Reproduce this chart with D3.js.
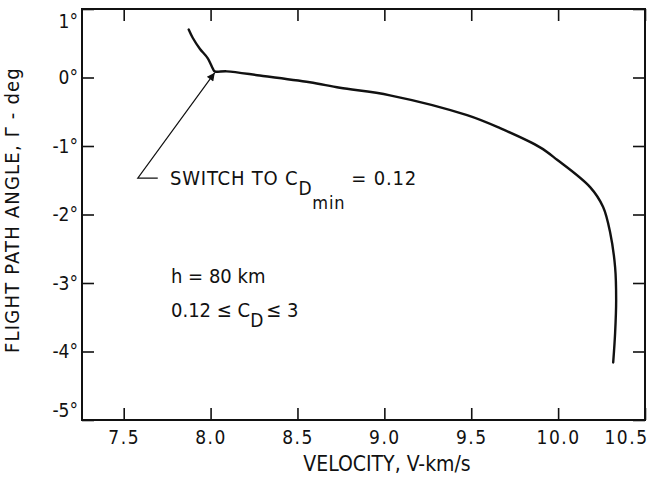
<!DOCTYPE html>
<html>
<head>
<meta charset="utf-8">
<script src="https://cdn.jsdelivr.net/npm/d3@7"></script>
<style>
  html, body { margin: 0; padding: 0; background: #fff; }
  svg text { font-family: "DejaVu Sans Condensed", "DejaVu Sans", sans-serif; font-stretch: condensed; fill: #111; }
</style>
</head>
<body>
<svg id="chart" width="652" height="486"></svg>
<script>
// Flight path angle vs velocity, h = 80 km, 0.12 <= CD <= 3
const velocity = [7.874, 7.897, 7.938, 7.984, 8.013, 8.024, 8.093, 8.283, 8.571, 8.744, 9.032,
                  9.476, 9.666, 9.896, 9.994, 10.184, 10.259, 10.300, 10.328, 10.334, 10.328, 10.317];
const gamma    = [0.70, 0.58, 0.42, 0.28, 0.13, 0.09, 0.09, 0.03, -0.07, -0.15, -0.26,
                  -0.55, -0.74, -1.02, -1.20, -1.60, -1.89, -2.27, -2.77, -3.25, -3.73, -4.16];

const xTicks = [7.5, 8.0, 8.5, 9.0, 9.5, 10.0, 10.5];
const yTicks = [1, 0, -1, -2, -3, -4, -5];

// Pointer from the annotation to the switch point
const pointerV = [7.696, 7.581, 8.024];
const pointerG = [-1.47, -1.47, 0.07];

const svg = d3.select("#chart");
const plotL = 82, plotR = 645, plotT = 9, plotB = 420;

const x = d3.scaleLinear().domain([7.26, 10.5]).range([plotL, plotR]);
const y = d3.scaleLinear().domain([-5, 1]).range([plotB, plotT]);

const fmtX = d => d.toFixed(1);
const fmtY = d => d + "\u00B0";

// Axes with inward ticks on all four sides
const gx = svg.append("g").attr("transform", `translate(0,${plotB})`)
  .call(d3.axisBottom(x).tickValues(xTicks).tickFormat(fmtX).tickSizeInner(-12).tickSizeOuter(0).tickPadding(11));
const gxTop = svg.append("g").attr("transform", `translate(0,${plotT})`)
  .call(d3.axisTop(x).tickValues(xTicks).tickFormat("").tickSizeInner(-12).tickSizeOuter(0));
const gy = svg.append("g").attr("transform", `translate(${plotL},0)`)
  .call(d3.axisLeft(y).tickValues(yTicks).tickFormat(fmtY).tickSizeInner(-12).tickSizeOuter(0).tickPadding(4));
const gyR = svg.append("g").attr("transform", `translate(${plotR},0)`)
  .call(d3.axisRight(y).tickValues(yTicks).tickFormat("").tickSizeInner(-12).tickSizeOuter(0));

[gx, gxTop, gy, gyR].forEach(g => {
  g.select(".domain").remove();
  g.selectAll(".tick line").attr("stroke", "#111").attr("stroke-width", 1.6);
  g.selectAll("text").attr("font-size", 19).attr("fill", "#111");
});
gx.selectAll(".tick text").attr("letter-spacing", 1.5);
// keep the last velocity label inside the page
gx.selectAll(".tick text").filter(d => d === 10.5).attr("text-anchor", "end").attr("dx", 3);
// nudge the end labels inside the frame
gy.selectAll(".tick text").attr("dy", d => d === 1 ? "0.95em" : d === -5 ? "-0.2em" : "0.32em");

// Frame
svg.append("rect")
  .attr("x", plotL).attr("y", plotT)
  .attr("width", plotR - plotL).attr("height", plotB - plotT)
  .attr("fill", "none").attr("stroke", "#111").attr("stroke-width", 2);

// Trajectory
const pts = velocity.map((v, i) => [v, gamma[i]]);
svg.append("path")
  .datum(pts)
  .attr("d", d3.line().x(d => x(d[0])).y(d => y(d[1])).curve(d3.curveCatmullRom.alpha(0.5)))
  .attr("fill", "none").attr("stroke", "#111").attr("stroke-width", 2.4)
  .attr("stroke-linejoin", "round").attr("stroke-linecap", "round");

// Annotation pointer with arrowhead
svg.append("defs").append("marker")
  .attr("id", "head").attr("viewBox", "0 0 10 10")
  .attr("refX", 10).attr("refY", 5)
  .attr("markerWidth", 12).attr("markerHeight", 8).attr("markerUnits", "userSpaceOnUse")
  .attr("orient", "auto")
  .append("path").attr("d", "M0,0 L10,5 L0,10 Z").attr("fill", "#111");

svg.append("path")
  .datum(pointerV.map((v, i) => [v, pointerG[i]]))
  .attr("d", d3.line().x(d => x(d[0])).y(d => y(d[1])))
  .attr("fill", "none").attr("stroke", "#111").attr("stroke-width", 1.2)
  .attr("marker-end", "url(#head)");

// Annotation text
const ann = svg.append("text").attr("x", 170).attr("y", 185).attr("font-size", 20).attr("letter-spacing", 0.8);
ann.append("tspan").text("SWITCH TO C");
ann.append("tspan").attr("dy", 10).attr("font-size", 19).text("D");
ann.append("tspan").attr("dy", 14).attr("font-size", 18).text("min");
ann.append("tspan").attr("dy", -24).attr("dx", 6).text("= 0.12");

svg.append("text").attr("x", 171).attr("y", 283).attr("font-size", 20).text("h = 80 km");
const cd = svg.append("text").attr("x", 171).attr("y", 317).attr("font-size", 20);
cd.append("tspan").text("0.12 \u2264 C");
cd.append("tspan").attr("dy", 10).attr("font-size", 19).text("D");
cd.append("tspan").attr("dy", -10).attr("dx", 3).text("\u2264 3");

// Axis titles
svg.append("text")
  .attr("x", 387).attr("y", 471)
  .attr("text-anchor", "middle").attr("font-size", 21)
  .text("VELOCITY, V-km/s");

svg.append("text")
  .attr("transform", "translate(19,210) rotate(-90)")
  .attr("text-anchor", "middle").attr("font-size", 20).attr("letter-spacing", 1.2)
  .text("FLIGHT PATH ANGLE, \u0393 - deg");
</script>
</body>
</html>
